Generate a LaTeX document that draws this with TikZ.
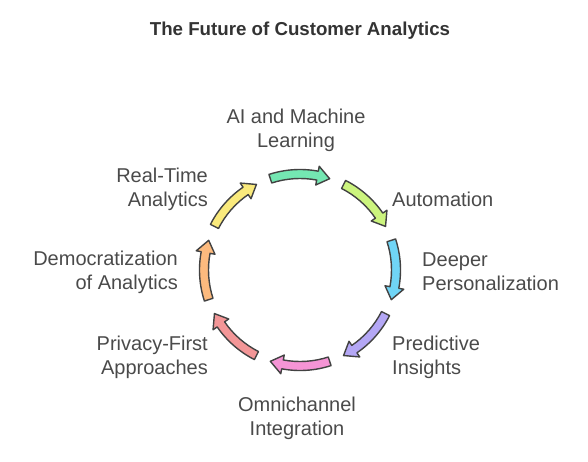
\documentclass[tikz,border=0pt]{standalone}
\usepackage{fontspec}
\setmainfont{Liberation Sans}

\definecolor{textgray}{HTML}{4A4A4A}
\definecolor{titlegray}{HTML}{333333}
\definecolor{edgegray}{HTML}{424242}
\definecolor{aicol}{HTML}{74E7B2}
\definecolor{autocol}{HTML}{CCF47E}
\definecolor{perscol}{HTML}{70D5F6}
\definecolor{predcol}{HTML}{B4A7F5}
\definecolor{omnicol}{HTML}{F594D5}
\definecolor{privcol}{HTML}{F39697}
\definecolor{democol}{HTML}{FCBA7E}
\definecolor{realcol}{HTML}{FAEA7C}

\newcommand{\ringr}{96}
\newcommand{\bodyw}{4.5}
\newcommand{\headw}{9.5}
\newcommand{\heada}{7.5}
% curved arrow along the ring, clockwise from #1 to #2
\newcommand{\cyclearrow}[3]{%
  \filldraw[arrowshape, fill=#3]
    ({#1}:{\ringr+\bodyw}) arc[start angle={#1}, end angle={#2+\heada}, radius={\ringr+\bodyw}]
    -- ({#2+\heada}:{\ringr+\headw}) -- ({#2}:{\ringr}) -- ({#2+\heada}:{\ringr-\headw})
    -- ({#2+\heada}:{\ringr-\bodyw}) arc[start angle={#2+\heada}, end angle={#1}, radius={\ringr-\bodyw}]
    -- cycle;}

\begin{document}
\begin{tikzpicture}[
  x=1pt, y=1pt,
  topic/.style={inner sep=0pt, text=textgray, font=\fontsize{20}{24}\selectfont},
  heading/.style={inner sep=0pt, text=titlegray, font=\fontsize{18.7}{22}\selectfont\bfseries},
  arrowshape/.style={draw=edgegray, line width=1.4pt, line join=round}
]
\useasboundingbox (-300,-191) rectangle (288,270);
\coordinate (c) at (0,0);

\node[heading] (title) at (0,239) {The Future of Customer Analytics};

\foreach \mid/\col in {90/aicol, 45/autocol, 0/perscol, -45/predcol, -90/omnicol, -135/privcol, -180/democol, 135/realcol}
  \cyclearrow{\mid+18}{\mid-18}{\col};

\node[topic, align=center] (ai) at (-4,140) {AI and Machine\\Learning};
\node[topic, anchor=west, align=left] (auto) at (92,71) {Automation};
\node[topic, anchor=west, align=left] (pers) at (122,-2) {Deeper\\Personalization};
\node[topic, anchor=west, align=left] (pred) at (92,-87) {Predictive\\Insights};
\node[topic, align=center] (omni) at (-3,-148) {Omnichannel\\Integration};
\node[topic, anchor=east, align=right] (priv) at (-92,-87) {Privacy-First\\Approaches};
\node[topic, anchor=east, align=right] (demo) at (-122,-2) {Democratization\\of Analytics};
\node[topic, anchor=east, align=right] (real) at (-92,81) {Real-Time\\Analytics};
\end{tikzpicture}
\end{document}
